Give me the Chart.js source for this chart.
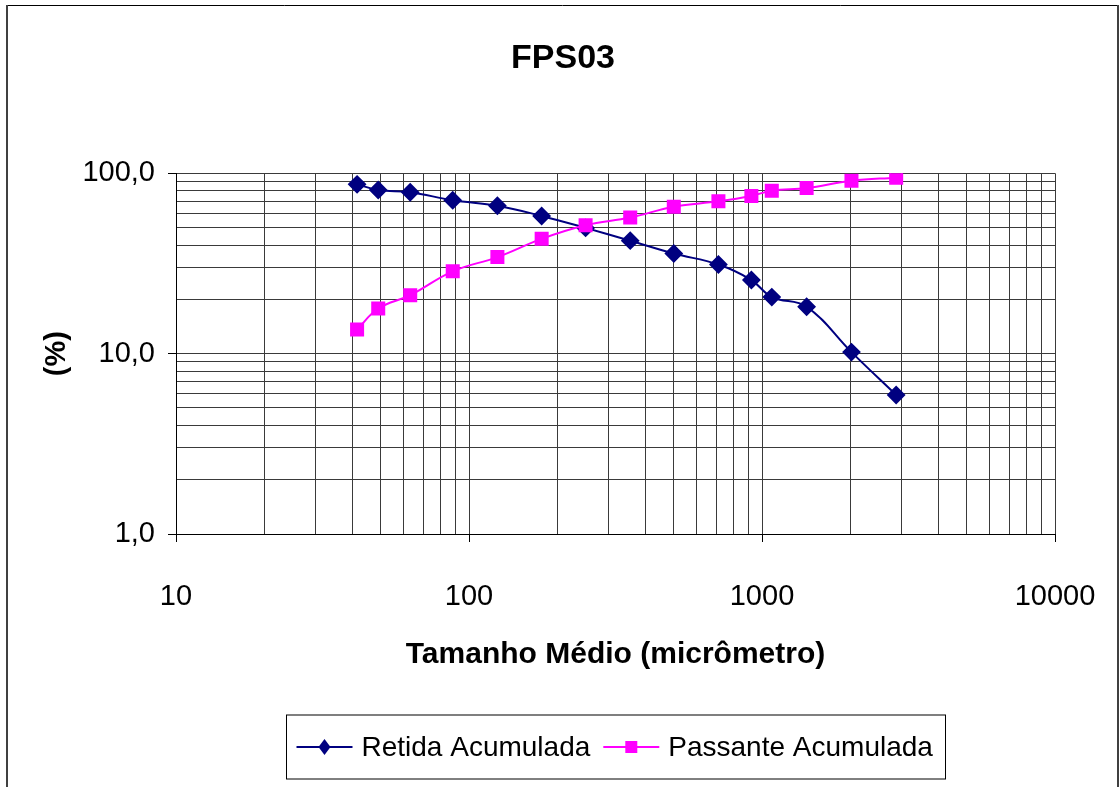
<!DOCTYPE html>
<html>
<head>
<meta charset="utf-8">
<script src="https://cdn.jsdelivr.net/npm/chart.js@4.4.0/dist/chart.umd.min.js"></script>
<style>
  html, body { margin: 0; padding: 0; background: #fff; overflow: hidden; }
  canvas { display: block; }
</style>
</head>
<body>
<canvas id="grafico" width="1120" height="787"></canvas>
<script>
"use strict"

// tamanho médio de cada fração (micrômetro)
var tamanhos = [41.5, 49, 63, 88, 125, 177, 250, 355, 500, 710, 920, 1080, 1420, 2020, 2870]
// porcentagens acumuladas
var retida = [86.9, 80.8, 78.5, 70.9, 66.1, 58.0, 49.8, 42.3, 35.9, 31.2, 25.6, 20.6, 18.2, 10.2, 5.9]
var passante = [13.6, 17.8, 21.1, 28.6, 34.3, 43.3, 51.5, 56.8, 65.3, 69.9, 74.9, 80.1, 82.9, 91.0, 94.6]

var xDecadas = [10, 100, 1000, 10000]
var xRotulos = ['10', '100', '1000', '10000']
var yDecadas = [1, 10, 100]
var yRotulos = ['1,0', '10,0', '100,0']

var FONTE = "'Liberation Sans', Arial, sans-serif"

// linhas de grade 1..9 em cada década
function linhasLog(decadas) {
    var v = []
    for (var i = 0; i < decadas.length - 1; i++) {
        for (var k = 1; k < 10; k++) v.push(decadas[i] * k)
    }
    v.push(decadas[decadas.length - 1])
    return v
}

function rotulo(decadas, rotulos) {
    return function (value) {
        var i = decadas.indexOf(value)
        return i >= 0 ? rotulos[i] : ''
    }
}

function marcaDecada(decadas) {
    return function (c) {
        return c.tick && decadas.indexOf(c.tick.value) >= 0 ? '#000' : 'rgba(0,0,0,0)'
    }
}

function pontos(ys) {
    return tamanhos.map(function (t, i) { return { x: t, y: ys[i] } })
}

// moldura externa e legenda com linha + marcador
var moldura = {
    id: 'moldura',
    afterDraw: function (chart) {
        var ctx = chart.ctx
        var H = chart.height
        ctx.save()
        ctx.strokeStyle = '#000'
        ctx.lineWidth = 1
        ctx.beginPath()
        ctx.moveTo(7, 5.5)
        ctx.lineTo(1118, 5.5)
        ctx.stroke()
        ctx.strokeStyle = '#404040'
        ctx.lineWidth = 2
        ctx.beginPath()
        ctx.moveTo(7, 5)
        ctx.lineTo(7, H)
        ctx.moveTo(1118, 5)
        ctx.lineTo(1118, H)
        ctx.stroke()

        // legenda
        var itens = chart.data.datasets
        ctx.font = '28px ' + FONTE
        var larguras = itens.map(function (d) { return ctx.measureText(d.label).width })
        var simb = 56, gapTxt = 9, gapItem = 13, padL = 10, padR = 13
        var total = padL + padR
        larguras.forEach(function (w, i) { total += simb + gapTxt + w + (i ? gapItem : 0) })
        var cx = (chart.chartArea.left + chart.chartArea.right) / 2
        var x0 = Math.round(cx - total / 2) + 0.5
        var cy = H - 40
        ctx.strokeStyle = '#000'
        ctx.lineWidth = 1
        ctx.strokeRect(x0, cy - 32, Math.round(total), 64)

        var x = x0 + padL
        itens.forEach(function (d, i) {
            ctx.strokeStyle = d.borderColor
            ctx.lineWidth = 2
            ctx.beginPath()
            ctx.moveTo(x, cy)
            ctx.lineTo(x + simb, cy)
            ctx.stroke()
            var mx = x + simb / 2
            ctx.fillStyle = d.pointBackgroundColor
            ctx.beginPath()
            if (d.pointStyle === 'rectRot') {
                ctx.moveTo(mx, cy - 8)
                ctx.lineTo(mx + 6, cy)
                ctx.lineTo(mx, cy + 8)
                ctx.lineTo(mx - 6, cy)
                ctx.closePath()
            } else {
                ctx.rect(mx - 6, cy - 6, 12, 12)
            }
            ctx.fill()
            ctx.fillStyle = '#000'
            ctx.textAlign = 'left'
            ctx.textBaseline = 'middle'
            ctx.fillText(d.label, x + simb + gapTxt, cy + 1)
            x += simb + gapTxt + larguras[i] + gapItem
        })
        ctx.restore()
    }
}

var ctx = document.getElementById('grafico').getContext('2d')
var grafico = new Chart(ctx, {
    type: 'scatter',
    data: {
        datasets: [{
            label: 'Retida Acumulada',
            data: pontos(retida),
            showLine: true,
            borderColor: '#000080',
            backgroundColor: '#000080',
            pointBackgroundColor: '#000080',
            pointBorderColor: '#000080',
            pointStyle: 'rectRot',
            pointRadius: 8,
            borderWidth: 2,
            tension: 0.4,
            order: 1
        }, {
            label: 'Passante Acumulada',
            data: pontos(passante),
            showLine: true,
            borderColor: '#ff00ff',
            backgroundColor: '#ff00ff',
            pointBackgroundColor: '#ff00ff',
            pointBorderColor: '#ff00ff',
            pointStyle: 'rect',
            pointRadius: 8.5,
            borderWidth: 2,
            tension: 0.4,
            order: 0
        }]
    },
    options: {
        responsive: false,
        animation: false,
        devicePixelRatio: 1,
        layout: { padding: { left: 8, right: 2, top: 10, bottom: 110 } },
        plugins: {
            legend: { display: false },
            tooltip: { enabled: false },
            title: {
                display: true,
                text: 'FPS03',
                color: '#000',
                font: { family: FONTE, size: 34, weight: 'bold' },
                padding: { top: 28, bottom: 94.5 }
            }
        },
        scales: {
            x: {
                type: 'logarithmic',
                min: 10,
                max: 10000,
                afterBuildTicks: function (s) {
                    s.ticks = linhasLog(xDecadas).map(function (v) { return { value: v } })
                },
                afterFit: function (s) {
                    s.height = 143
                    s.paddingLeft = 0
                    s.paddingRight = 65
                },
                grid: {
                    color: '#3a3a3a',
                    lineWidth: 1,
                    tickLength: 8,
                    tickColor: marcaDecada(xDecadas)
                },
                border: { color: '#000', width: 1 },
                ticks: {
                    autoSkip: false,
                    maxRotation: 0,
                    padding: 38,
                    color: '#000',
                    font: { family: FONTE, size: 29 },
                    callback: rotulo(xDecadas, xRotulos)
                },
                title: {
                    display: true,
                    text: 'Tamanho Médio (micrômetro)',
                    color: '#000',
                    font: { family: FONTE, size: 30, weight: 'bold' },
                    padding: { top: 0, bottom: 4 }
                }
            },
            y: {
                type: 'logarithmic',
                min: 1,
                max: 100,
                afterBuildTicks: function (s) {
                    s.ticks = linhasLog(yDecadas).map(function (v) { return { value: v } })
                },
                afterFit: function (s) {
                    s.width = 168
                    s.paddingTop = 0
                    s.paddingBottom = 0
                },
                grid: {
                    color: '#3a3a3a',
                    lineWidth: 1,
                    tickLength: 8,
                    tickColor: marcaDecada(yDecadas)
                },
                border: { color: '#000', width: 1 },
                ticks: {
                    autoSkip: false,
                    padding: 13,
                    color: '#000',
                    font: { family: FONTE, size: 29 },
                    callback: rotulo(yDecadas, yRotulos)
                },
                title: {
                    display: true,
                    text: '(%)',
                    color: '#000',
                    font: { family: FONTE, size: 29, weight: 'bold' },
                    padding: { top: 31.5, bottom: 0 }
                }
            }
        }
    },
    plugins: [moldura]
})
</script>
</body>
</html>
